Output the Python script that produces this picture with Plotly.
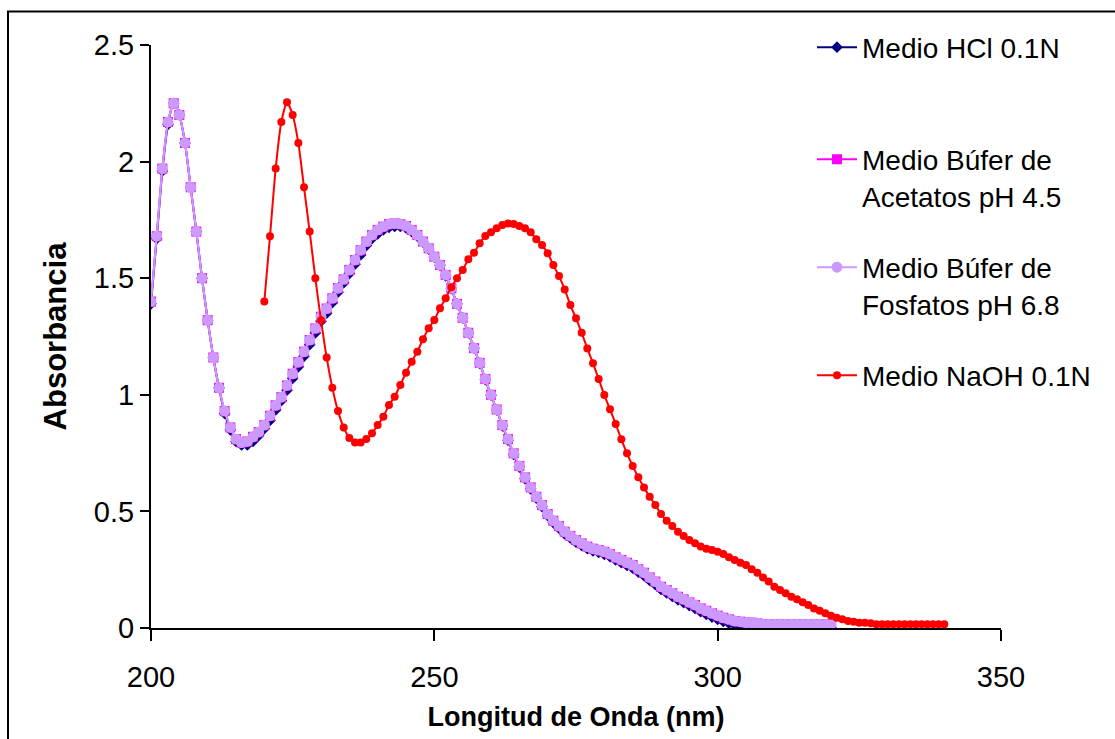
import plotly.graph_objects as go

# Wavelengths (nm)
wl_acid = list(range(200, 321))   # 200..320
wl_naoh = list(range(220, 341))   # 220..340

hcl = [
    1.39, 1.67, 1.96, 2.16, 2.25, 2.20, 2.08, 1.89, 1.70, 1.50,
    1.32, 1.16, 1.03, 0.92, 0.85, 0.80, 0.785, 0.785, 0.80, 0.825,
    0.855, 0.89, 0.935, 0.975, 1.02, 1.07, 1.12, 1.165, 1.215, 1.265,
    1.315, 1.35, 1.395, 1.44, 1.48, 1.52, 1.56, 1.60, 1.64, 1.67,
    1.69, 1.707, 1.718, 1.722, 1.722, 1.716, 1.70, 1.68, 1.655, 1.625,
    1.59, 1.555, 1.51, 1.455, 1.39, 1.33, 1.265, 1.20, 1.135, 1.065,
    0.998, 0.935, 0.867, 0.805, 0.744, 0.69, 0.64, 0.597, 0.557, 0.52,
    0.482, 0.452, 0.428, 0.404, 0.386, 0.368, 0.354, 0.34, 0.331, 0.324,
    0.316, 0.306, 0.292, 0.28, 0.268, 0.257, 0.24, 0.224, 0.204, 0.186,
    0.165, 0.15, 0.136, 0.121, 0.109, 0.096, 0.084, 0.07, 0.058, 0.047,
    0.037, 0.028, 0.02, 0.013, 0.009, 0.006, 0.004, 0.003, 0.002, 0.002,
    0.002, 0.002, 0.002, 0.002, 0.002, 0.002, 0.002, 0.002, 0.002, 0.002,
    0.002,
]

acetatos = [
    1.40, 1.68, 1.97, 2.17, 2.25, 2.20, 2.08, 1.89, 1.70, 1.50,
    1.32, 1.16, 1.03, 0.93, 0.86, 0.81, 0.795, 0.80, 0.82, 0.84,
    0.87, 0.91, 0.955, 0.99, 1.04, 1.09, 1.14, 1.185, 1.235, 1.285,
    1.335, 1.37, 1.414, 1.457, 1.495, 1.535, 1.578, 1.62, 1.657, 1.685,
    1.707, 1.721, 1.732, 1.735, 1.732, 1.724, 1.707, 1.685, 1.657, 1.628,
    1.592, 1.557, 1.514, 1.457, 1.39, 1.33, 1.266, 1.20, 1.137, 1.068,
    1.00, 0.937, 0.87, 0.81, 0.749, 0.695, 0.646, 0.603, 0.563, 0.527,
    0.489, 0.46, 0.437, 0.413, 0.395, 0.377, 0.363, 0.349, 0.340, 0.334,
    0.327, 0.317, 0.303, 0.292, 0.28, 0.27, 0.252, 0.237, 0.217, 0.199,
    0.177, 0.163, 0.149, 0.134, 0.123, 0.110, 0.099, 0.084, 0.074, 0.063,
    0.053, 0.044, 0.037, 0.030, 0.027, 0.023, 0.023, 0.020, 0.016, 0.016,
    0.016, 0.016, 0.016, 0.016, 0.016, 0.016, 0.016, 0.016, 0.016, 0.016,
    0.016,
]

fosfatos = [
    1.40, 1.68, 1.97, 2.17, 2.25, 2.20, 2.08, 1.89, 1.70, 1.50,
    1.32, 1.16, 1.03, 0.93, 0.86, 0.81, 0.795, 0.80, 0.82, 0.84,
    0.87, 0.91, 0.955, 0.99, 1.04, 1.09, 1.14, 1.185, 1.235, 1.285,
    1.335, 1.37, 1.414, 1.457, 1.495, 1.535, 1.578, 1.62, 1.657, 1.685,
    1.707, 1.721, 1.732, 1.735, 1.732, 1.724, 1.707, 1.685, 1.657, 1.628,
    1.592, 1.557, 1.514, 1.457, 1.39, 1.33, 1.266, 1.20, 1.137, 1.068,
    1.00, 0.937, 0.87, 0.81, 0.749, 0.695, 0.646, 0.603, 0.563, 0.527,
    0.489, 0.46, 0.437, 0.413, 0.395, 0.377, 0.363, 0.349, 0.340, 0.334,
    0.327, 0.317, 0.303, 0.292, 0.28, 0.27, 0.252, 0.237, 0.217, 0.199,
    0.177, 0.163, 0.149, 0.134, 0.123, 0.110, 0.099, 0.084, 0.074, 0.063,
    0.053, 0.044, 0.037, 0.030, 0.027, 0.023, 0.023, 0.020, 0.016, 0.016,
    0.016, 0.016, 0.016, 0.016, 0.016, 0.016, 0.016, 0.016, 0.016, 0.016,
    0.016,
]

naoh = [
    1.40, 1.68, 1.97, 2.17, 2.255, 2.20, 2.08, 1.89, 1.70, 1.50,
    1.32, 1.16, 1.03, 0.93, 0.86, 0.815, 0.795, 0.795, 0.81, 0.835,
    0.87, 0.906, 0.956, 0.992, 1.042, 1.095, 1.142, 1.185, 1.238, 1.285,
    1.321, 1.371, 1.414, 1.461, 1.50, 1.535, 1.581, 1.609, 1.65, 1.681,
    1.697, 1.714, 1.728, 1.735, 1.732, 1.724, 1.714, 1.697, 1.667, 1.642,
    1.607, 1.557, 1.509, 1.452, 1.385, 1.328, 1.266, 1.199, 1.135, 1.068,
    0.999, 0.938, 0.875, 0.809, 0.749, 0.695, 0.646, 0.603, 0.563, 0.527,
    0.489, 0.46, 0.437, 0.413, 0.395, 0.377, 0.363, 0.349, 0.340, 0.334,
    0.327, 0.317, 0.303, 0.292, 0.28, 0.27, 0.252, 0.237, 0.217, 0.199,
    0.177, 0.163, 0.149, 0.134, 0.123, 0.110, 0.099, 0.084, 0.074, 0.063,
    0.053, 0.044, 0.037, 0.030, 0.027, 0.023, 0.023, 0.020, 0.016, 0.016,
    0.016, 0.016, 0.016, 0.016, 0.016, 0.016, 0.016, 0.016, 0.016, 0.016,
    0.016,
]

names = [
    "Medio HCl 0.1N",
    "Medio Búfer de<br>Acetatos pH 4.5",
    "Medio Búfer de<br>Fosfatos pH 6.8",
    "Medio NaOH 0.1N",
]
x_ticks = [200, 250, 300, 350]
y_ticks = [0, 0.5, 1, 1.5, 2, 2.5]
y_tick_text = ["0", "0.5", "1", "1.5", "2", "2.5"]

FONT = "Liberation Sans, Arial, sans-serif"

fig = go.Figure()
fig.add_trace(go.Scatter(
    x=wl_acid, y=hcl, name=names[0], mode="lines+markers", legend="legend",
    line=dict(color="#000080", width=2, shape="spline", smoothing=0.6),
    marker=dict(symbol="diamond", size=9, color="#000080"),
))
fig.add_trace(go.Scatter(
    x=wl_acid, y=acetatos, name=names[1], mode="lines+markers", legend="legend2",
    line=dict(color="#FF00FF", width=2, shape="spline", smoothing=0.6),
    marker=dict(symbol="square", size=10, color="#FF00FF"),
))
fig.add_trace(go.Scatter(
    x=wl_acid, y=fosfatos, name=names[2], mode="lines+markers", legend="legend3",
    line=dict(color="#CC99FF", width=2, shape="spline", smoothing=0.6),
    marker=dict(symbol="circle", size=11, color="#CC99FF"),
))
fig.add_trace(go.Scatter(
    x=wl_naoh, y=naoh, name=names[3], mode="lines+markers", legend="legend4",
    line=dict(color="#FF0000", width=2, shape="spline", smoothing=0.6),
    marker=dict(symbol="circle", size=8, color="#FF0000"),
))

L, R, T, B = 151, 114, 45, 111
W, H = 1115, 739
pw, ph = W - L - R, H - T - B

def px_x(p):
    return (p - L) / pw

def px_y(p):
    return (H - B - p) / ph

leg_common = dict(
    font=dict(family=FONT, size=28, color="#000000"),
    bgcolor="rgba(0,0,0,0)", borderwidth=0, valign="top",
    xanchor="left", yanchor="top", itemwidth=40,
)
fig.update_layout(
    width=W, height=H,
    margin=dict(l=L, r=R, t=T, b=B),
    paper_bgcolor="white", plot_bgcolor="white",
    showlegend=True,
    legend=dict(x=px_x(812), y=px_y(22.5), **leg_common),
    legend2=dict(x=px_x(812), y=px_y(134.5), **leg_common),
    legend3=dict(x=px_x(812), y=px_y(242.5), **leg_common),
    legend4=dict(x=px_x(812), y=px_y(350.5), **leg_common),
    xaxis=dict(
        range=[200, 350], tickmode="array", tickvals=x_ticks,
        ticks="outside", ticklen=11, tickwidth=2, tickcolor="#000000",
        showline=True, linecolor="#000000", linewidth=2,
        showgrid=False, zeroline=False, ticklabelstandoff=11,
        tickfont=dict(family=FONT, size=29, color="#000000"),
        title=dict(text="<b>Longitud de Onda (nm)</b>",
                   font=dict(family=FONT, size=27, color="#000000"),
                   standoff=15),
    ),
    yaxis=dict(
        range=[0, 2.5], tickmode="array", tickvals=y_ticks, ticktext=y_tick_text,
        ticks="outside", ticklen=9, tickwidth=2, tickcolor="#000000",
        showline=True, linecolor="#000000", linewidth=2,
        showgrid=False, zeroline=False,
        tickfont=dict(family=FONT, size=29, color="#000000"),
        title=dict(text="<b>Absorbancia</b>",
                   font=dict(family=FONT, size=31, color="#000000"),
                   standoff=18),
    ),
    shapes=[dict(
        type="rect", xref="paper", yref="paper",
        x0=px_x(8), x1=px_x(1130), y0=px_y(760), y1=px_y(11.5),
        line=dict(color="#000000", width=2), fillcolor="rgba(0,0,0,0)",
        layer="below",
    )],
)

fig.write_html("out.html")
